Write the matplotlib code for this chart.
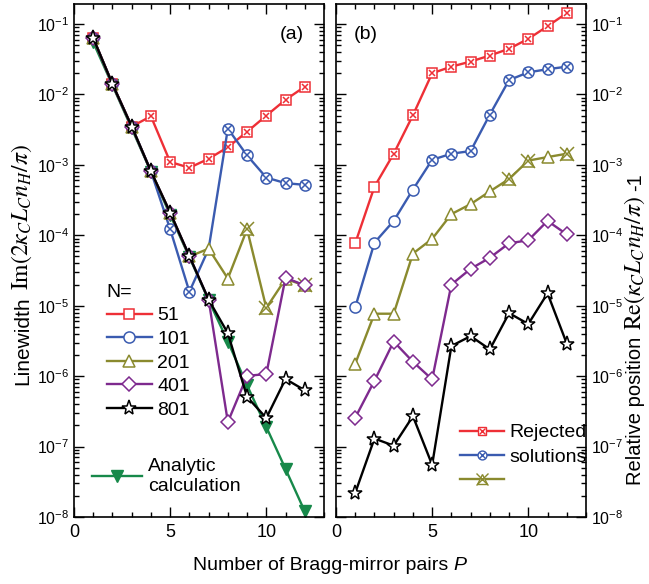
import numpy as np
import matplotlib
matplotlib.use("Agg")
import matplotlib.pyplot as plt
from matplotlib.lines import Line2D
from matplotlib.offsetbox import TextArea, HPacker, AnchoredOffsetbox
from matplotlib.ticker import FixedLocator, MultipleLocator, FuncFormatter, NullFormatter

plt.rcParams["font.family"] = ["Liberation Sans", "DejaVu Sans"]
plt.rcParams["mathtext.fontset"] = "stix"

# Number of Bragg-mirror pairs
P = np.arange(1, 13)

# (a) linewidth for each cavity size N
lw_51 = [0.063, 0.014, 0.0035, 0.0049, 0.0011, 0.00091, 0.00122, 0.00178, 0.00295, 0.0050, 0.0084, 0.0129]
lw_101 = [0.063, 0.014, 0.0035, 0.00081, 1.22e-4, 1.58e-5, 6.4e-5, 3.27e-3, 1.36e-3, 6.6e-4, 5.5e-4, 5.2e-4]
lw_201 = [0.063, 0.014, 0.0035, 0.00081, 2.1e-4, 5.0e-5, 6.45e-5, 2.43e-5, 1.22e-4, 9.3e-6, 2.4e-5, 1.94e-5]
lw_401 = [0.063, 0.014, 0.0035, 0.00081, 2.1e-4, 5.06e-5, 1.22e-5, 2.23e-7, 1.01e-6, 1.07e-6, 2.5e-5, 1.94e-5]
lw_801 = [0.063, 0.014, 0.0035, 0.00081, 2.1e-4, 5.06e-5, 1.22e-5, 4.07e-6, 5.07e-7, 2.54e-7, 9.1e-7, 6.3e-7]
lw_analytic = [0.055, 0.0135, 3.3e-3, 8.0e-4, 1.95e-4, 4.9e-5, 1.2e-5, 3.1e-6, 7.4e-7, 1.9e-7, 4.8e-8, 1.2e-8]

# (b) relative position for each cavity size N
rp_51 = [7.7e-5, 4.9e-4, 1.44e-3, 5.07e-3, 0.020, 0.0248, 0.0293, 0.0357, 0.0445, 0.0616, 0.093, 0.143]
rp_101 = [9.5e-6, 7.85e-5, 1.6e-4, 4.46e-4, 1.18e-3, 1.44e-3, 1.57e-3, 5.18e-3, 0.016, 0.0206, 0.0228, 0.0248]
rp_201 = [1.5e-6, 7.7e-6, 7.7e-6, 5.5e-5, 8.9e-5, 2.0e-4, 2.77e-4, 4.2e-4, 6.3e-4, 1.15e-3, 1.29e-3, 1.44e-3]
rp_401 = [2.57e-7, 8.6e-7, 3.1e-6, 1.6e-6, 9.0e-7, 2.0e-5, 3.34e-5, 4.8e-5, 7.7e-5, 8.5e-5, 1.6e-4, 1.03e-4]
rp_801 = [2.2e-8, 1.3e-7, 1.03e-7, 2.7e-7, 5.5e-8, 2.68e-6, 3.7e-6, 2.4e-6, 7.85e-6, 5.5e-6, 1.5e-5, 2.9e-6]

# pair counts whose solutions were rejected
rej_a_51 = [4, 5, 6, 7, 8, 9, 10, 11, 12]
rej_a_101 = [5, 6, 8, 9, 10, 11, 12]
rej_a_201 = [9, 10, 12]
rej_b_51 = [3, 4, 5, 6, 7, 8, 9, 10, 11, 12]
rej_b_101 = [5, 6, 7, 8, 9, 10, 11, 12]
rej_b_201 = [9, 10, 12]

# pair counts drawn without a marker (coincident with another curve)
unmarked_a_101 = [7]

sizes = ["51", "101", "201", "401", "801"]
decades = [10.0 ** e for e in range(-8, 0)]

RED = "#ee2f36"
BLUE = "#3a5bb0"
OLIVE = "#8a8a2e"
PURPLE = "#7e2a8e"
BLACK = "#000000"
GREEN = "#17894a"

styles = {
    "51": dict(color=RED, marker="s", ms=7),
    "101": dict(color=BLUE, marker="o", ms=8),
    "201": dict(color=OLIVE, marker="^", ms=9),
    "401": dict(color=PURPLE, marker="D", ms=7.5),
    "801": dict(color=BLACK, marker="*", ms=11),
}
cross_ms = {"51": 5.0, "101": 5.5, "201": 10.0}

W, H = 649, 584
fig = plt.figure(figsize=(W / 100, H / 100), dpi=100)
ax_a = fig.add_axes([74 / W, 67 / H, 250 / W, 513 / H])
ax_b = fig.add_axes([336 / W, 67 / H, 250 / W, 513 / H])


def draw_series(ax, key, y, rejected, zorder, unmarked=()):
    st = styles[key]
    marked = [i for i in range(len(P)) if P[i] not in unmarked]
    ax.plot(P, y, color=st["color"], lw=1.7, marker=st["marker"], ms=st["ms"],
            mfc="white", mec=st["color"], mew=1.1, zorder=zorder, markevery=marked)
    if rejected:
        idx = [p - 1 for p in rejected]
        ax.plot(P[idx], np.asarray(y)[idx], ls="none", marker="x",
                ms=cross_ms[key], mec=st["color"], mew=1.1, zorder=zorder + 0.1)


# panel (a)
ax_a.plot(P, lw_analytic, color=GREEN, lw=1.7, marker="v", ms=8,
          mfc=GREEN, mec=GREEN, zorder=2)
draw_series(ax_a, "51", lw_51, rej_a_51, 3)
draw_series(ax_a, "101", lw_101, rej_a_101, 4, unmarked_a_101)
draw_series(ax_a, "201", lw_201, rej_a_201, 5)
draw_series(ax_a, "401", lw_401, [], 6)
draw_series(ax_a, "801", lw_801, [], 7)

# panel (b)
draw_series(ax_b, "51", rp_51, rej_b_51, 3)
draw_series(ax_b, "101", rp_101, rej_b_101, 4)
draw_series(ax_b, "201", rp_201, rej_b_201, 5)
draw_series(ax_b, "401", rp_401, [], 6)
draw_series(ax_b, "801", rp_801, [], 7)

ylo, yhi = 1e-8, 10 ** -0.716


def sci_label(v, pos):
    e = int(round(np.log10(v)))
    return r"$\mathregular{10^{%d}}$" % e


minor = [m * d for d in decades for m in range(2, 10) if m * d < yhi]

for ax in (ax_a, ax_b):
    ax.set_yscale("log")
    ax.set_ylim(ylo, yhi)
    ax.set_xlim(0, 13)
    ax.xaxis.set_major_locator(FixedLocator([0, 5, 10]))
    ax.xaxis.set_minor_locator(MultipleLocator(1))
    ax.yaxis.set_major_locator(FixedLocator(decades))
    ax.yaxis.set_minor_locator(FixedLocator(minor))
    ax.yaxis.set_major_formatter(FuncFormatter(sci_label))
    ax.yaxis.set_minor_formatter(NullFormatter())
    ax.tick_params(which="both", direction="in", top=True, right=True, width=1.0)
    ax.tick_params(which="major", length=7)
    ax.tick_params(which="minor", length=3.5)
    ax.tick_params(axis="x", labelsize=13, pad=5)
    ax.tick_params(axis="y", labelsize=11.5)
    for s in ax.spines.values():
        s.set_linewidth(1.2)

ax_b.tick_params(axis="y", which="both", labelleft=False, labelright=True)

# vertical axis titles: a sans-serif word followed by a larger math expression
renderer = fig.canvas.get_renderer()


def vertical_title(x_px, y_bottom_px, parts):
    y = H - y_bottom_px
    for s, fs, gap in parts:
        t = fig.text(x_px / W, y / H, s, rotation=90, rotation_mode="anchor",
                     ha="left", va="baseline", fontsize=fs)
        y += t.get_window_extent(renderer).height + gap


vertical_title(28, 385, [("Linewidth", 15, 6),
                         (r"$\mathrm{Im}(2\kappa_C L_C n_H/\pi)$", 17, 0)])
vertical_title(641, 485, [("Relative position", 14.5, 7),
                          (r"$\mathrm{Re}(\kappa_C L_C n_H/\pi)$", 17, 5),
                          ("-1", 14.5, 0)])

# x label with italic P
xlab = HPacker(children=[TextArea("Number of Bragg-mirror pairs ", textprops=dict(fontsize=14)),
                         TextArea("P", textprops=dict(fontsize=14, style="italic"))],
               align="baseline", pad=0, sep=0)
fig.add_artist(AnchoredOffsetbox(loc="center", child=xlab, frameon=False, pad=0,
                                 borderpad=0, bbox_to_anchor=(330 / W, 1 - 565 / H),
                                 bbox_transform=fig.transFigure))

ax_a.text(0.87, 0.94, "(a)", transform=ax_a.transAxes, ha="center", va="center", fontsize=14)
ax_b.text(0.12, 0.94, "(b)", transform=ax_b.transAxes, ha="center", va="center", fontsize=14)

# legend of cavity sizes
size_handles = []
for key in sizes:
    st = styles[key]
    size_handles.append(Line2D([], [], color=st["color"], lw=1.7, marker=st["marker"],
                               ms=st["ms"], mfc="white", mec=st["color"], mew=1.1))
leg1 = ax_a.legend(size_handles, sizes, title="N=", loc="upper left",
                   bbox_to_anchor=(0.10, 0.47), frameon=False, fontsize=14,
                   title_fontsize=14, handlelength=2.3, handletextpad=0.3,
                   labelspacing=0.31, borderaxespad=0, alignment="left")
ax_a.add_artist(leg1)

an_handle = Line2D([], [], color=GREEN, lw=1.7, marker="v", ms=8, mfc=GREEN, mec=GREEN)
ax_a.legend([an_handle], ["Analytic\ncalculation"], loc="upper left",
            bbox_to_anchor=(0.04, 0.13), frameon=False, fontsize=14,
            handlelength=2.6, handletextpad=0.3, borderaxespad=0)

# legend of rejected solutions
rej_handles = []
for key in ["51", "101", "201"]:
    st = styles[key]
    base = Line2D([], [], color=st["color"], lw=1.7, marker=st["marker"], ms=st["ms"] * 0.8,
                  mfc="white", mec=st["color"], mew=1.0)
    cross = Line2D([], [], ls="none", marker="x", ms=cross_ms[key] * 0.8,
                   mec=st["color"], mew=1.0)
    rej_handles.append((base, cross))
ax_b.legend(rej_handles, ["Rejected", "solutions", ""], loc="upper left",
            bbox_to_anchor=(0.465, 0.197), frameon=False, fontsize=14,
            handlelength=2.25, handletextpad=0.3, labelspacing=0.35, borderaxespad=0)

fig.savefig("out.png", dpi=100)
